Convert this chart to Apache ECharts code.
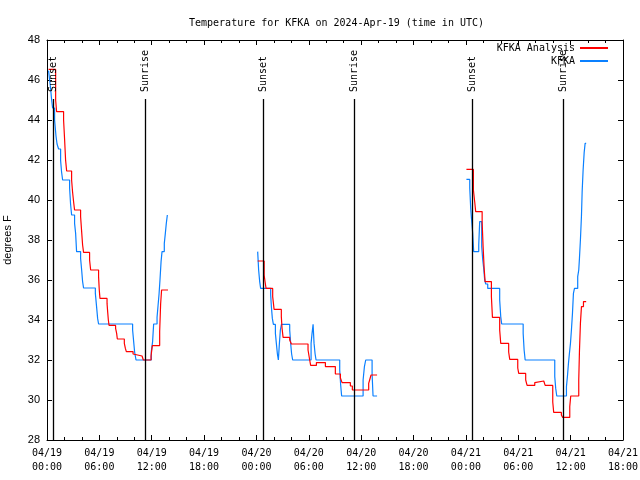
<!DOCTYPE html>
<html><head><meta charset="utf-8">
<script src="https://cdn.jsdelivr.net/npm/echarts@6/dist/echarts.min.js"></script>
<style>html,body{margin:0;padding:0;background:#fff}#c{width:640px;height:480px}</style>
</head><body><div id="c"></div>
<script>
// Hours since 2024-04-19 00:00 UTC
const xTickLabels = ['04/19\n00:00','04/19\n06:00','04/19\n12:00','04/19\n18:00','04/20\n00:00','04/20\n06:00','04/20\n12:00','04/20\n18:00','04/21\n00:00','04/21\n06:00','04/21\n12:00','04/21\n18:00'];
const sunTimes = [0.76, 11.30, 24.83, 35.25, 48.78, 59.21];
const sunNames = ['Sunset','Sunrise','Sunset','Sunrise','Sunset','Sunrise'];

const obsSeg1 = [[0.18,46.47],[0.30,46.0],[0.41,45.6],[0.53,45.0],[0.64,44.6],[0.87,44.0],[1.03,43.2],[1.15,42.8],[1.33,42.55],[1.56,41.97],[1.67,41.4],[1.79,41.0],[2.59,40.6],[2.70,39.8],[2.82,39.25],[3.16,38.83],[3.28,38.33],[3.39,37.42],[3.85,37.08],[3.97,36.5],[4.08,35.92],[4.19,35.6],[5.54,35.33],[5.68,34.67],[5.80,34.08],[5.91,33.8],[9.81,33.5],[9.93,32.92],[10.04,32.4],[10.20,32.0],[11.95,32.42],[12.10,32.92],[12.22,33.8],[12.61,34.13],[12.72,34.7],[12.84,35.3],[12.95,36.03],[13.07,36.92],[13.18,37.42],[13.44,37.83],[13.56,38.33],[13.67,38.83],[13.79,39.25],[13.87,39.25]];
const obsSeg2 = [[24.14,37.42],[24.25,36.5],[24.37,35.92],[24.48,35.58],[25.63,35.25],[25.71,34.67],[25.82,34.08],[25.94,33.78],[26.17,33.33],[26.28,32.83],[26.40,32.3],[26.51,32.0],[26.63,32.83],[26.74,33.5],[26.86,33.78],[27.81,33.5],[27.92,32.83],[28.03,32.3],[28.15,32.0],[30.26,32.83],[30.37,33.33],[30.49,33.78],[30.60,32.83],[30.72,32.3],[30.83,32.0],[33.54,31.5],[33.65,30.75],[33.76,30.2],[36.22,31.0],[36.37,31.67],[36.52,32.0],[37.25,31.3],[37.36,30.2],[37.82,30.2]];
const obsSeg3 = [[48.06,41.03],[48.44,40.6],[48.55,39.58],[48.67,38.9],[48.78,38.33],[48.89,37.42],[49.47,37.75],[49.58,38.92],[49.81,37.67],[49.93,37.0],[50.04,36.58],[50.15,36.0],[50.27,35.8],[50.50,35.58],[51.87,35.0],[51.99,34.17],[52.10,33.8],[54.56,33.33],[54.67,32.5],[54.79,32.0],[58.18,31.17],[58.29,30.58],[58.41,30.2],[59.52,30.67],[59.63,31.17],[59.75,31.83],[59.86,32.33],[59.98,32.83],[60.09,33.5],[60.21,34.33],[60.32,35.33],[60.44,35.58],[60.81,36.17],[60.93,36.5],[61.01,37.08],[61.12,38.0],[61.24,39.2],[61.32,40.42],[61.43,41.5],[61.55,42.37],[61.66,42.83],[61.78,42.83]];

const anaSeg1 = [[0.18,46.53],[0.99,45.0],[1.10,44.42],[1.90,44.0],[2.02,43.0],[2.13,42.0],[2.25,41.45],[2.82,41.0],[2.93,40.4],[3.05,39.9],[3.16,39.5],[3.85,39.17],[3.97,38.42],[4.08,37.75],[4.19,37.38],[4.88,37.0],[5.00,36.5],[5.91,36.17],[5.99,35.5],[6.07,35.08],[6.88,34.83],[6.95,34.42],[7.03,34.0],[7.11,33.73],[7.86,33.58],[7.98,33.33],[8.06,33.05],[8.86,32.83],[8.98,32.58],[9.09,32.42],[9.86,32.3],[10.01,32.2],[10.89,32.1],[11.04,32.0],[11.92,32.2],[12.07,32.72],[12.91,33.42],[13.02,34.8],[13.13,35.5],[13.87,35.5]];
const anaSeg2 = [[24.14,36.95],[24.88,36.25],[24.99,35.9],[25.10,35.58],[25.86,35.17],[26.02,34.53],[26.85,34.17],[26.93,33.6],[27.05,33.13],[27.81,33.0],[28.00,32.8],[29.91,32.5],[30.10,32.0],[30.21,31.73],[30.87,31.87],[31.90,31.67],[33.04,31.3],[33.62,31.1],[33.81,30.87],[34.76,30.7],[34.99,30.5],[36.86,30.83],[36.97,31.0],[37.13,31.25],[37.82,31.25]];
const anaSeg3 = [[48.06,41.53],[48.86,40.5],[49.01,39.9],[49.12,39.42],[49.86,38.9],[49.97,37.67],[50.09,36.58],[50.20,35.92],[50.92,35.17],[51.04,34.13],[51.87,33.5],[51.99,32.83],[52.90,32.4],[53.02,32.03],[53.94,31.6],[54.05,31.33],[54.85,31.0],[55.01,30.73],[55.89,30.87],[56.05,30.95],[56.92,30.85],[57.08,30.73],[57.95,29.9],[58.06,29.38],[58.94,29.25],[59.09,29.13],[59.90,29.67],[60.01,30.2],[60.93,31.0],[61.01,32.42],[61.12,33.83],[61.24,34.67],[61.47,34.92],[61.78,34.92]];

const mono = 'DejaVu Sans Mono';
const sans = 'Liberation Sans';
const sunLineTop = 45.05, sunLabelBase = 45.4, yMin = 28, yMax = 48;

function joinSegs(segs) {
  const out = [];
  segs.forEach((s, i) => { if (i) out.push(['-', '-']); s.forEach(p => out.push(p)); });
  return out;
}

const sunLines = [];
sunTimes.forEach((t, i) => {
  sunLines.push([{ coord: [t, yMin] }, { coord: [t, sunLineTop] }]);
  sunLines.push([
    { coord: [t, sunLabelBase], name: sunNames[i],
      lineStyle: { color: 'rgba(0,0,0,0)' },
      label: { show: true, position: 'insideStart', distance: 0, formatter: '{b}', color: '#000', fontFamily: mono, fontSize: 10 } },
    { coord: [t, yMax] }
  ]);
});

const axisCommon = {
  type: 'value', axisLine: { onZero: false, lineStyle: { color: '#000', width: 1 } },
  axisTick: { inside: true, length: 5, lineStyle: { color: '#000' } },
  splitLine: { show: false }
};

const chart = echarts.init(document.getElementById('c'), null, { renderer: 'canvas' });
chart.setOption({
  animation: false,
  backgroundColor: '#fff',
  title: { text: 'Temperature for KFKA on 2024-Apr-19 (time in UTC)', left: 184, top: 13,
    textStyle: { fontFamily: mono, fontSize: 10, fontWeight: 'normal', color: '#000' } },
  legend: { orient: 'vertical', align: 'right', right: 31, top: 43, padding: 0,
    itemWidth: 28, itemHeight: 10, itemGap: 3,
    itemStyle: { opacity: 0 },
    textStyle: { fontFamily: mono, fontSize: 10, color: '#000' },
    data: ['KFKA Analysis', 'KFKA'] },
  grid: { left: 47, right: 17, top: 40, bottom: 40, containLabel: false, outerBoundsMode: 'none' },
  xAxis: [
    Object.assign({}, axisCommon, { position: 'bottom', min: 0, max: 66, interval: 6,
      minorTick: { show: true, splitNumber: 3, length: 3, lineStyle: { color: '#000' } },
      axisLabel: { formatter: v => xTickLabels[Math.round(v / 6)], fontFamily: mono, fontSize: 10, color: '#000', lineHeight: 14, margin: 6 } }),
    Object.assign({}, axisCommon, { position: 'top', min: 0, max: 66, interval: 6,
      minorTick: { show: true, splitNumber: 3, length: 3, lineStyle: { color: '#000' } },
      axisLabel: { show: false } })
  ],
  yAxis: [
    Object.assign({}, axisCommon, { position: 'left', min: yMin, max: yMax, interval: 2,
      name: 'degrees F', nameLocation: 'middle', nameGap: 34,
      nameTextStyle: { fontFamily: sans, fontSize: 11, color: '#000' },
      axisLabel: { fontFamily: sans, fontSize: 11, color: '#000', margin: 7 } }),
    Object.assign({}, axisCommon, { position: 'right', min: yMin, max: yMax, interval: 2,
      axisLabel: { show: false } })
  ],
  series: [
    { name: 'KFKA Analysis', type: 'line', step: 'end', symbol: 'none', connectNulls: false,
      color: '#ff0000', lineStyle: { color: '#ff0000', width: 1.2 },
      data: joinSegs([anaSeg1, anaSeg2, anaSeg3]), z: 3 },
    { name: 'KFKA', type: 'line', step: 'end', symbol: 'none', connectNulls: false,
      color: '#0a80ff', lineStyle: { color: '#0a80ff', width: 1.2 },
      data: joinSegs([obsSeg1, obsSeg2, obsSeg3]), z: 2,
      markLine: { silent: true, symbol: ['none', 'none'], animation: false,
        lineStyle: { color: '#000', width: 1.3, type: 'solid' },
        label: { show: false },
        emphasis: { disabled: true },
        data: sunLines } }
  ]
});
</script></body></html>
